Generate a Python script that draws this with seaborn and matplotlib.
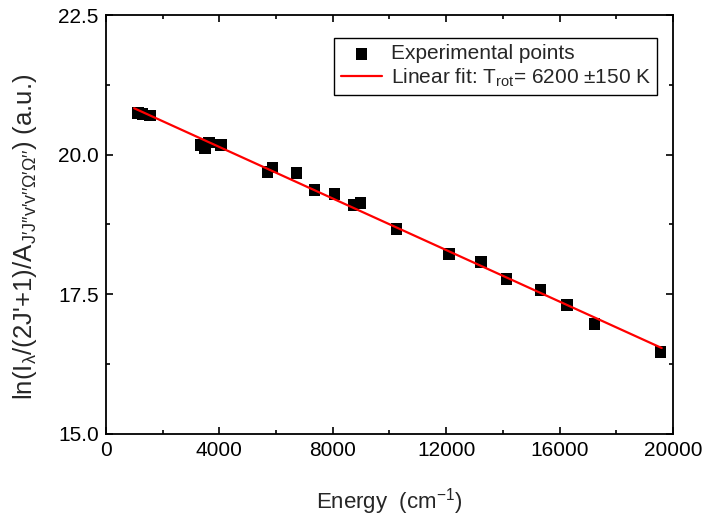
# IMPORTING LIBRARIES

import numpy as np
import pandas as pd
import matplotlib
matplotlib.use('Agg')
import matplotlib.pyplot as plt
import seaborn as sns
from matplotlib.ticker import MultipleLocator


# DATA

energy = [1130, 1300, 1550, 3340, 3490, 3630, 4060, 5700, 5880, 6730, 7360,
          8060, 8730, 8980, 10250, 12100, 13220, 14130, 15330, 16270, 17230, 19560]
ln_int = [20.75, 20.73, 20.70, 20.17, 20.12, 20.22, 20.17, 19.69, 19.77, 19.67, 19.37,
          19.30, 19.10, 19.13, 18.67, 18.22, 18.08, 17.77, 17.58, 17.31, 16.97, 16.47]

x_ticks = [0, 4000, 8000, 12000, 16000, 20000]
y_ticks = [15.0, 17.5, 20.0, 22.5]

df = pd.DataFrame({'Energy': energy, 'lnI': ln_int})


# LINEAR FIT

slope, intercept = np.polyfit(df['Energy'], df['lnI'], 1)
fit_x = np.array([1000, 19600])
fit_df = pd.DataFrame({'Energy': fit_x, 'lnI': slope * fit_x + intercept})


# STYLE

sns.set_style('ticks')
plt.rcParams['font.family'] = ['Liberation Sans', 'DejaVu Sans']
plt.rcParams['mathtext.fontset'] = 'custom'
plt.rcParams['mathtext.rm'] = 'Liberation Sans'
plt.rcParams['mathtext.it'] = 'Liberation Sans'
plt.rcParams['mathtext.bf'] = 'Liberation Sans:bold'


# PLOTTING

fig = plt.figure(figsize=(7.1, 5.19), dpi=100)
ax = fig.add_axes([0.149, 0.164, 0.799, 0.807])

sns.scatterplot(x='Energy', y='lnI', data=df, ax=ax, marker='s', s=70,
                color='black', edgecolor='none', label='Experimental points', zorder=3)
sns.lineplot(x='Energy', y='lnI', data=fit_df, ax=ax, color='red', linewidth=1.6,
             label=r'Linear fit: T$_{\mathrm{rot}}$= 6200 ±150 K', zorder=4)

ax.set_xlim(0, 20000)
ax.set_ylim(15.0, 22.5)
ax.set_xticks(x_ticks)
ax.set_yticks(y_ticks)
ax.set_yticklabels([f'{v:.1f}' for v in y_ticks])
ax.xaxis.set_minor_locator(MultipleLocator(2000))
ax.yaxis.set_minor_locator(MultipleLocator(1.25))

ax.tick_params(which='both', direction='in', top=True, right=True, width=1.2,
               labelsize=15, colors='black')
ax.tick_params(which='major', length=5, pad=5)
ax.tick_params(which='minor', length=3)
for sp in ax.spines.values():
    sp.set_linewidth(1.3)
    sp.set_color('black')

ax.set_xlabel('Energy  (cm$^{-1}$)', fontsize=16, labelpad=19)
ax.set_ylabel("ln(I$_{\\mathrm{λ}}$/(2J'+1)/A$_{\\mathrm{J′J′′v′v′′Ω′Ω′′}}$) (a.u.)",
              fontsize=18.5, labelpad=14)
ax.yaxis.label.set_y(0.47)

leg = ax.legend(loc='upper right', bbox_to_anchor=(0.972, 0.945), fontsize=15,
                frameon=True, fancybox=False, borderpad=0.3, handlelength=2.0,
                handletextpad=0.4, labelspacing=0.15, borderaxespad=0)
leg.get_frame().set_edgecolor('black')
leg.get_frame().set_linewidth(1.0)
leg.get_frame().set_alpha(1)

plt.savefig('out.png', dpi=100)
